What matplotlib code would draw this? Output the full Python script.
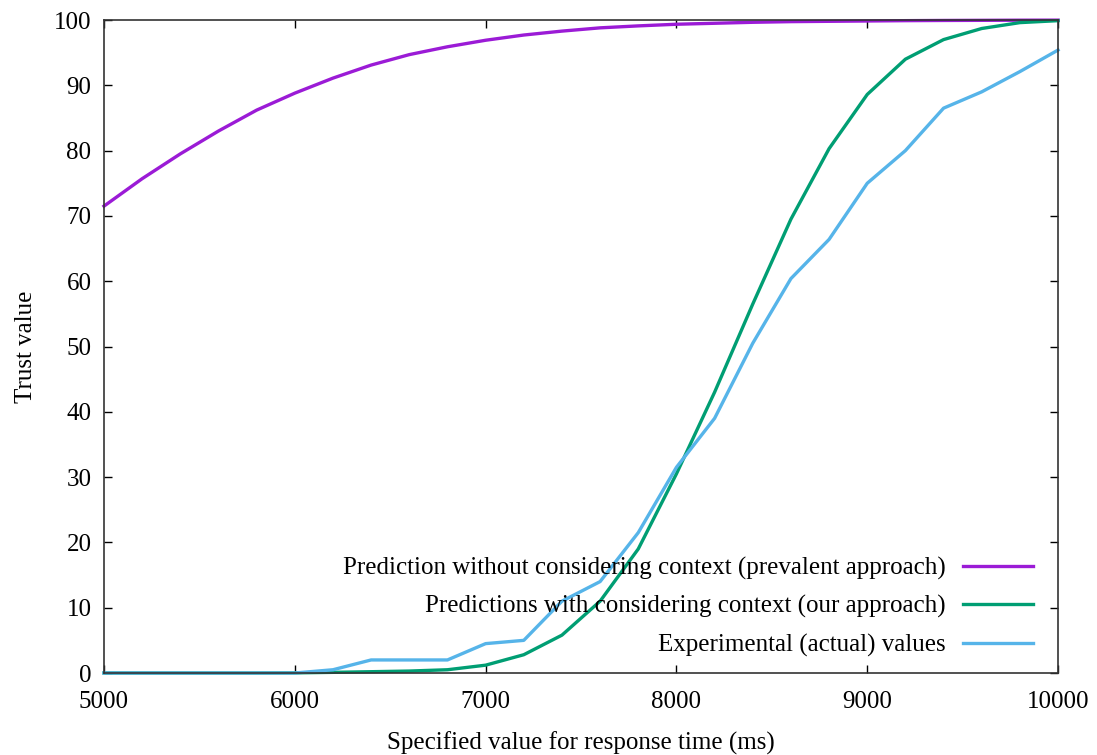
import matplotlib
matplotlib.use("Agg")
import matplotlib.pyplot as plt

plt.rcParams['font.family'] = ['Liberation Serif', 'DejaVu Serif']

# response time (ms), sampled every 200 ms
response_time = [5000, 5200, 5400, 5600, 5800, 6000, 6200, 6400, 6600, 6800,
                 7000, 7200, 7400, 7600, 7800, 8000, 8200, 8400, 8600, 8800,
                 9000, 9200, 9400, 9600, 9800, 10000]

no_context = [71.5, 75.7, 79.5, 83.0, 86.2, 88.8, 91.1, 93.1, 94.7, 95.9,
              96.9, 97.7, 98.3, 98.8, 99.1, 99.35, 99.5, 99.65, 99.75, 99.8,
              99.85, 99.9, 99.93, 99.95, 99.97, 99.98]

with_context = [0.0, 0.0, 0.0, 0.0, 0.0, 0.02, 0.1, 0.2, 0.3, 0.5,
                1.2, 2.8, 5.8, 11.0, 19.0, 30.5, 43.0, 56.5, 69.5, 80.3,
                88.6, 94.0, 97.0, 98.7, 99.6, 99.9]

experimental = [0.0, 0.0, 0.0, 0.0, 0.0, 0.0, 0.5, 2.0, 2.0, 2.0,
                4.5, 5.0, 11.0, 14.0, 21.5, 31.5, 39.0, 50.5, 60.4, 66.4,
                75.0, 80.0, 86.5, 89.0, 92.1, 95.4]

labels = ["Prediction without considering context (prevalent approach)",
          "Predictions with considering context (our approach)",
          "Experimental (actual) values"]

fig = plt.figure(figsize=(10.97, 7.55), dpi=100)
ax = fig.add_axes([0.0948, 0.1086, 0.8697, 0.8649])

ax.plot(response_time, no_context, color='#9B1BD6', lw=2.4, label=labels[0], clip_on=False)
ax.plot(response_time, with_context, color='#009E73', lw=2.4, label=labels[1], clip_on=False)
ax.plot(response_time, experimental, color='#56B4E9', lw=2.4, label=labels[2], clip_on=False)

ax.set_xlim(5000, 10000)
ax.set_ylim(0, 100)
ax.set_xticks(range(5000, 10001, 1000))
ax.set_yticks(range(0, 101, 10))
ax.tick_params(direction='in', length=6, width=1, top=True, right=True,
               labelsize=18)
ax.tick_params(axis='x', pad=13)
ax.tick_params(axis='y', pad=9)
for s in ax.spines.values():
    s.set_linewidth(1.2)
    s.set_color('#333333')

ax.set_xlabel("Specified value for response time (ms)", fontsize=18, labelpad=13)
ax.set_ylabel("Trust value", fontsize=18, labelpad=12)

ax.legend(loc='lower right', frameon=False, markerfirst=False, fontsize=18,
          handlelength=2.8, labelspacing=0.62, handletextpad=0.7,
          borderaxespad=0.6, bbox_to_anchor=(1.0, -0.0138))

fig.savefig("out.png", dpi=100)
